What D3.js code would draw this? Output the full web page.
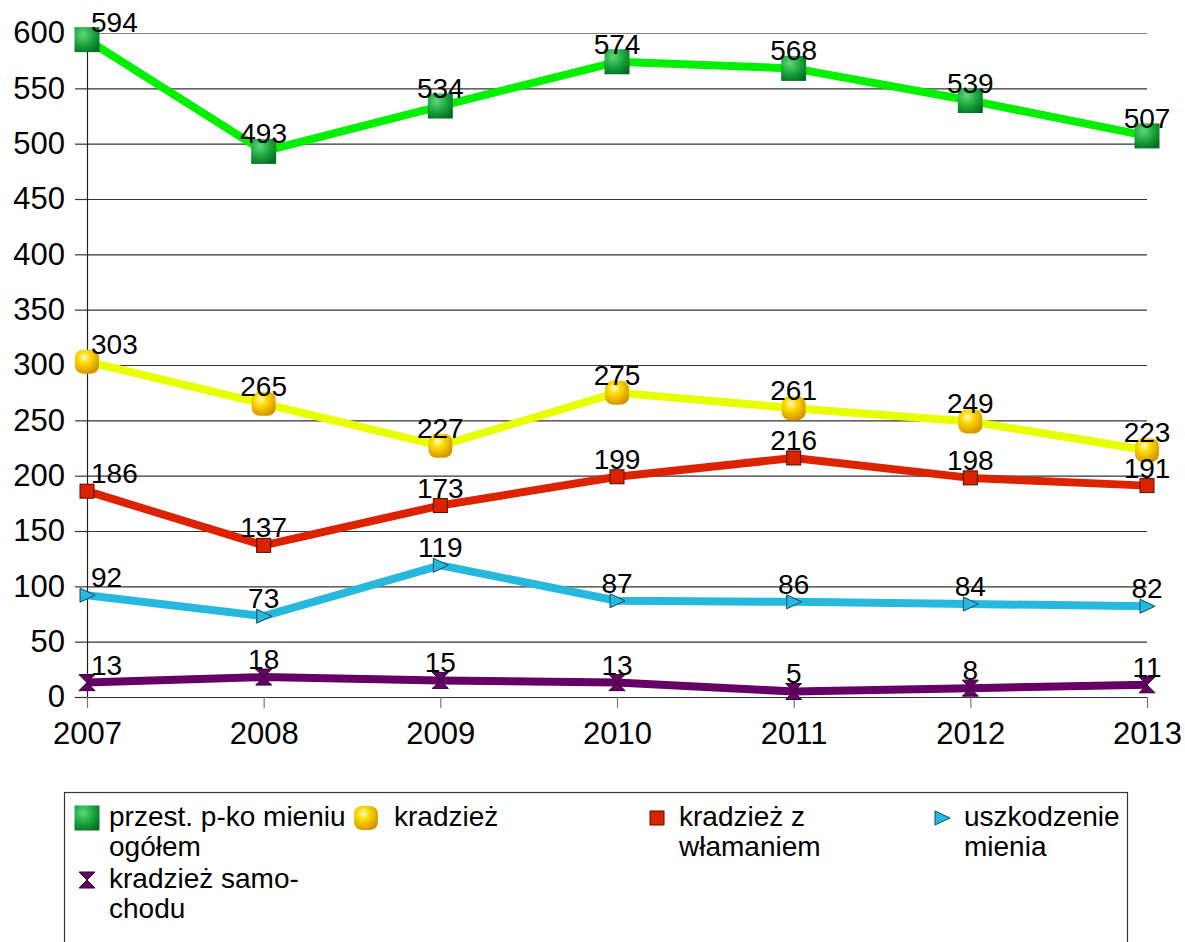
<!DOCTYPE html>
<html>
<head>
<meta charset="utf-8">
<script src="https://cdn.jsdelivr.net/npm/d3@7"></script>
<style>
  body { margin: 0; background: #fff; }
  svg { display: block; font-family: "Liberation Sans", Arial, sans-serif; }
</style>
</head>
<body>
<div class="chart"></div>
<script>
// data
var years = ["2007", "2008", "2009", "2010", "2011", "2012", "2013"];
var ogolem = [594, 493, 534, 574, 568, 539, 507];
var kradziez = [303, 265, 227, 275, 261, 249, 223];
var wlamanie = [186, 137, 173, 199, 216, 198, 191];
var uszkodzenie = [92, 73, 119, 87, 86, 84, 82];
var samochody = [13, 18, 15, 13, 5, 8, 11];
var yTicks = [0, 50, 100, 150, 200, 250, 300, 350, 400, 450, 500, 550, 600];
var legendLabels = [
    ["przest. p-ko mieniu", "ogółem"],
    ["kradzież"],
    ["kradzież z", "włamaniem"],
    ["uszkodzenie", "mienia"],
    ["kradzież samo-", "chodu"]
];

var series = [
    { values: ogolem, line: "#00f000", marker: "greenSquare" },
    { values: kradziez, line: "#e8ff00", marker: "yellowBall" },
    { values: wlamanie, line: "#dd2200", marker: "redSquare" },
    { values: uszkodzenie, line: "#27b8dd", marker: "blueTriangle" },
    { values: samochody, line: "#660066", marker: "hourglass" }
];

var w = 1185, h = 942;

var svg = d3.select(".chart").append("svg")
    .attr("width", w)
    .attr("height", h);

// gradients for the fancy markers
var defs = svg.append("defs");
var gg = defs.append("radialGradient").attr("id", "gGreen")
    .attr("cx", "35%").attr("cy", "30%").attr("r", "80%");
gg.append("stop").attr("offset", "0%").attr("stop-color", "#5fd878");
gg.append("stop").attr("offset", "55%").attr("stop-color", "#19a23c");
gg.append("stop").attr("offset", "100%").attr("stop-color", "#056b22");
var gy = defs.append("radialGradient").attr("id", "gYellow")
    .attr("cx", "38%").attr("cy", "32%").attr("r", "70%");
gy.append("stop").attr("offset", "0%").attr("stop-color", "#fffbd0");
gy.append("stop").attr("offset", "35%").attr("stop-color", "#ffdc00");
gy.append("stop").attr("offset", "100%").attr("stop-color", "#d49400");

var x = d3.scalePoint()
    .domain(years)
    .range([87, 1147]);

var y = d3.scaleLinear()
    .domain([0, 600])
    .range([697, 33]);

// grid
var grid = svg.append("g")
    .attr("class", "grid")
    .attr("transform", "translate(87,0)")
    .call(d3.axisLeft(y).tickValues(yTicks).tickSize(-1060).tickFormat(""))
    .call(function (g) { g.select(".domain").remove(); });
grid.selectAll("line")
    .attr("stroke", function (d) { return d === 600 ? "#888" : "#333"; })
    .attr("stroke-width", 1.2);

// y axis
var yAxis = svg.append("g")
    .attr("transform", "translate(87,0)")
    .call(d3.axisLeft(y).tickValues(yTicks).tickSize(12).tickSizeOuter(0).tickPadding(10));
yAxis.select(".domain").attr("stroke", "#222").attr("stroke-width", 1.2);
yAxis.selectAll("line")
    .attr("stroke", function (d) { return d === 600 ? "#888" : "#333"; })
    .attr("stroke-width", 1.2);
yAxis.selectAll("text")
    .attr("font-size", 31)
    .attr("fill", "#000");

// x axis
var xAxis = svg.append("g")
    .attr("transform", "translate(0,697)")
    .call(d3.axisBottom(x).tickSize(11).tickSizeOuter(0).tickPadding(14));
xAxis.select(".domain").remove();
xAxis.selectAll("line").attr("stroke", "#777").attr("stroke-width", 1.2);
xAxis.selectAll("text")
    .attr("font-size", 31)
    .attr("fill", "#000");

// marker drawing
function drawMarker(g, type) {
    if (type === "greenSquare") {
        g.append("rect").attr("x", -12.5).attr("y", -12.5)
            .attr("width", 25).attr("height", 25)
            .attr("fill", "url(#gGreen)");
    } else if (type === "yellowBall") {
        g.append("rect").attr("x", -12).attr("y", -12)
            .attr("width", 24).attr("height", 24).attr("rx", 8)
            .attr("fill", "url(#gYellow)");
    } else if (type === "redSquare") {
        g.append("rect").attr("x", -7).attr("y", -7)
            .attr("width", 14).attr("height", 14)
            .attr("fill", "#dd2200").attr("stroke", "#4a1000").attr("stroke-width", 1);
    } else if (type === "blueTriangle") {
        g.append("path").attr("d", "M-7,-7L8,0L-7,7Z")
            .attr("fill", "#27b8dd").attr("stroke", "#0b4a66").attr("stroke-width", 1);
    } else if (type === "hourglass") {
        g.append("path").attr("d", "M-8,-8L8,-8L-8,8L8,8Z")
            .attr("fill", "#660066").attr("stroke", "#2a002a").attr("stroke-width", 1);
    }
}

var line = d3.line()
    .x(function (d, i) { return x(years[i]); })
    .y(function (d) { return y(d); });

series.forEach(function (s) {
    svg.append("path")
        .datum(s.values)
        .attr("d", line)
        .attr("fill", "none")
        .attr("stroke", s.line)
        .attr("stroke-width", 8)
        .attr("stroke-linejoin", "round");
});

series.forEach(function (s) {
    s.values.forEach(function (v, i) {
        var g = svg.append("g")
            .attr("transform", "translate(" + x(years[i]) + "," + y(v) + ")");
        drawMarker(g, s.marker);
    });
});

// data labels
series.forEach(function (s) {
    svg.append("g").selectAll("text")
        .data(s.values)
        .enter()
        .append("text")
        .attr("x", function (d, i) { return i === 0 ? x(years[i]) + 4 : x(years[i]); })
        .attr("y", function (d) { return y(d) - 8; })
        .attr("text-anchor", function (d, i) { return i === 0 ? "start" : "middle"; })
        .attr("font-size", 28)
        .attr("fill", "#000")
        .text(function (d) { return d; });
});

// legend
svg.append("rect")
    .attr("x", 64.5).attr("y", 792.5)
    .attr("width", 1063).attr("height", 200)
    .attr("fill", "none")
    .attr("stroke", "#333")
    .attr("stroke-width", 1.2);

legendLabels.forEach(function (lines, i) {
    var col = i % 4, row = Math.floor(i / 4);
    var tx = 109 + col * 285;
    var by = 826 + row * 62;
    var m = svg.append("g")
        .attr("transform", "translate(" + (tx - (i === 1 ? 28 : 22)) + "," + (by - 8) + ")");
    drawMarker(m, series[i].marker);
    var t = svg.append("text")
        .attr("x", tx).attr("y", by)
        .attr("font-size", 28)
        .attr("fill", "#000");
    lines.forEach(function (l, j) {
        t.append("tspan")
            .attr("x", tx)
            .attr("dy", j === 0 ? 0 : 30)
            .text(l);
    });
});
</script>
</body>
</html>
